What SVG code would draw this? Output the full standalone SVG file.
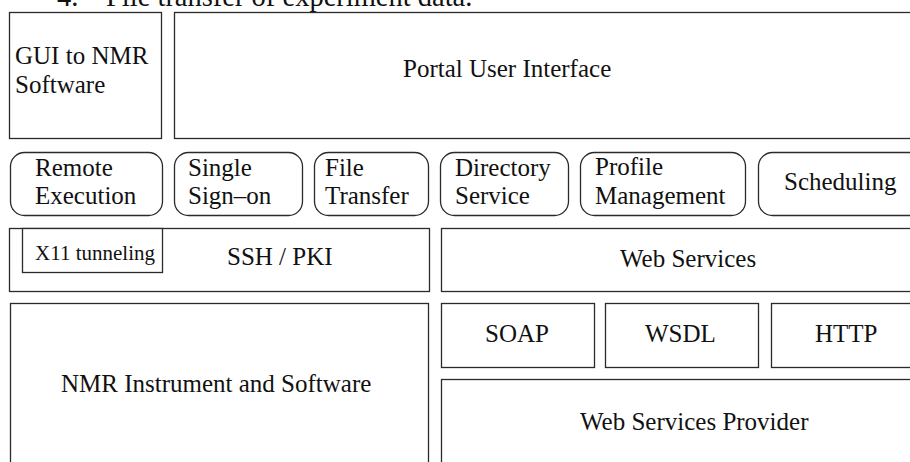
<svg xmlns="http://www.w3.org/2000/svg" width="910" height="462" viewBox="0 0 910 462">
  <style>
    .box { fill: #ffffff; stroke: #2a2a2a; stroke-width: 1.3; }
    .lbl { font-family: "Liberation Serif", "Times New Roman", serif; font-size: 25px; fill: #111111; }
    .sm { font-size: 21px; }
    .cap { font-family: "Liberation Serif", "Times New Roman", serif; font-size: 28.5px; fill: #111111; }
  </style>
  <rect x="0" y="0" width="910" height="462" fill="#ffffff"/>

  <!-- caption line, only its lower part falls on the page -->
  <text class="cap" x="57" y="6">4.</text>
  <text class="cap" x="106" y="6">File transfer of experiment data.</text>

  <!-- user interface layer -->
  <g id="gui-nmr">
    <rect class="box" x="9.5" y="12.5" width="152" height="126"/>
    <text class="lbl" x="15" y="64">GUI to NMR</text>
    <text class="lbl" x="15" y="93">Software</text>
  </g>
  <g id="portal-ui">
    <rect class="box" x="174.5" y="12.5" width="760" height="126"/>
    <text class="lbl" x="403" y="77">Portal User Interface</text>
  </g>

  <!-- service layer -->
  <g id="remote-execution">
    <rect class="box" x="10.5" y="152.5" width="152" height="63" rx="14"/>
    <text class="lbl" x="35" y="176">Remote</text>
    <text class="lbl" x="35" y="204">Execution</text>
  </g>
  <g id="single-sign-on">
    <rect class="box" x="174.5" y="152.5" width="128" height="63" rx="14"/>
    <text class="lbl" x="188" y="176">Single</text>
    <text class="lbl" x="188" y="204">Sign–on</text>
  </g>
  <g id="file-transfer">
    <rect class="box" x="314.5" y="152.5" width="114" height="63" rx="14"/>
    <text class="lbl" x="325" y="176">File</text>
    <text class="lbl" x="325" y="204">Transfer</text>
  </g>
  <g id="directory-service">
    <rect class="box" x="440.5" y="152.5" width="128" height="63" rx="14"/>
    <text class="lbl" x="455" y="176">Directory</text>
    <text class="lbl" x="455" y="204">Service</text>
  </g>
  <g id="profile-management">
    <rect class="box" x="580.5" y="152.5" width="165" height="63" rx="14"/>
    <text class="lbl" x="595" y="175">Profile</text>
    <text class="lbl" x="595" y="204">Management</text>
  </g>
  <g id="scheduling">
    <rect class="box" x="758.5" y="152.5" width="170" height="63" rx="14"/>
    <text class="lbl" x="784" y="190">Scheduling</text>
  </g>

  <!-- transport layer -->
  <g id="ssh-pki">
    <rect class="box" x="9.5" y="228.5" width="420" height="63"/>
    <text class="lbl" x="227" y="265">SSH / PKI</text>
  </g>
  <g id="x11-tunneling">
    <rect class="box" x="22.5" y="228.5" width="140" height="44"/>
    <text class="lbl sm" x="35" y="260">X11 tunneling</text>
  </g>
  <g id="web-services">
    <rect class="box" x="441.5" y="228.5" width="500" height="63"/>
    <text class="lbl" x="620" y="267">Web Services</text>
  </g>

  <!-- base layer -->
  <g id="nmr-instrument">
    <rect class="box" x="10.5" y="303.5" width="418" height="200"/>
    <text class="lbl" x="61" y="392">NMR Instrument and Software</text>
  </g>
  <g id="soap">
    <rect class="box" x="441.5" y="303.5" width="153" height="64"/>
    <text class="lbl" x="485" y="342">SOAP</text>
  </g>
  <g id="wsdl">
    <rect class="box" x="605.5" y="303.5" width="153" height="64"/>
    <text class="lbl" x="645" y="342">WSDL</text>
  </g>
  <g id="http">
    <rect class="box" x="771.5" y="303.5" width="160" height="64"/>
    <text class="lbl" x="815" y="342">HTTP</text>
  </g>
  <g id="web-services-provider">
    <rect class="box" x="441.5" y="379.5" width="500" height="120"/>
    <text class="lbl" x="580" y="430">Web Services Provider</text>
  </g>
</svg>
